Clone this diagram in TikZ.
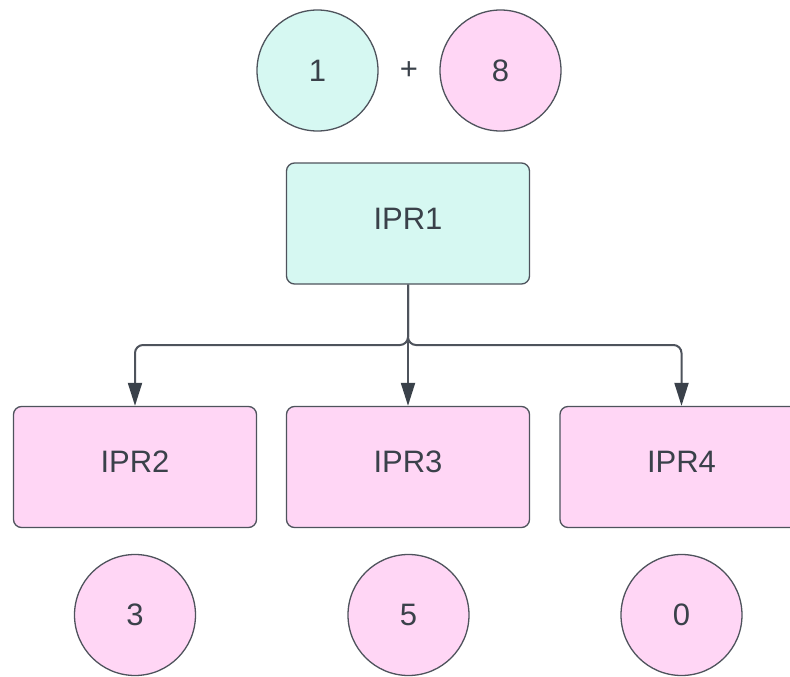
\documentclass[tikz,border=0pt]{standalone}
\usepackage{fontspec}
\setmainfont{Liberation Sans}
\usetikzlibrary{arrows.meta}
\definecolor{teal}{HTML}{D6F8F2}
\definecolor{pinkf}{HTML}{FFD6F5}
\definecolor{edge}{HTML}{4E535C}
\definecolor{txt}{HTML}{3A414A}
\definecolor{arrc}{HTML}{3A414A}
\tikzset{
  lbl/.style={text=txt,font=\fontsize{31}{36}\selectfont},
  boxn/.style={lbl,draw=edge,line width=1.3pt,rounded corners=8pt,minimum width=243pt,minimum height=121pt,inner sep=0pt,text depth=10pt},
  circn/.style={lbl,draw=edge,line width=1.3pt,circle,minimum size=121pt,inner sep=0pt},
  conn/.style={draw=edge,line width=2pt,rounded corners=8pt,-{Triangle[length=23pt,width=14pt,fill=arrc,color=arrc]}}
}
\begin{document}
\begin{tikzpicture}[x=1pt,y=-1pt]
\useasboundingbox (0,0) rectangle (790,677);
\clip (0,0) rectangle (790,677);
\node[circn,fill=teal] (c1) at (317.5,70.5) {1};
\node[lbl] (plus) at (409,70.5) {+};
\node[circn,fill=pinkf] (c8) at (500.5,70.5) {8};
\node[boxn,fill=teal] (ipr1) at (408,223.5) {IPR1};
\node[boxn,fill=pinkf] (ipr2) at (135,467) {IPR2};
\node[boxn,fill=pinkf] (ipr3) at (408,467) {IPR3};
\node[boxn,fill=pinkf] (ipr4) at (681.5,467) {IPR4};
\node[circn,fill=pinkf] (c3) at (135,615) {3};
\node[circn,fill=pinkf] (c5) at (408.5,615) {5};
\node[circn,fill=pinkf] (c0) at (681.5,615) {0};
\coordinate (j) at (408,345);
\draw[conn] (ipr1.south) -- (ipr3.north);
\draw[conn] (ipr1.south) |- (ipr2.north |- j) -- (ipr2.north);
\draw[conn] (ipr1.south) |- (ipr4.north |- j) -- (ipr4.north);
\end{tikzpicture}
\end{document}
